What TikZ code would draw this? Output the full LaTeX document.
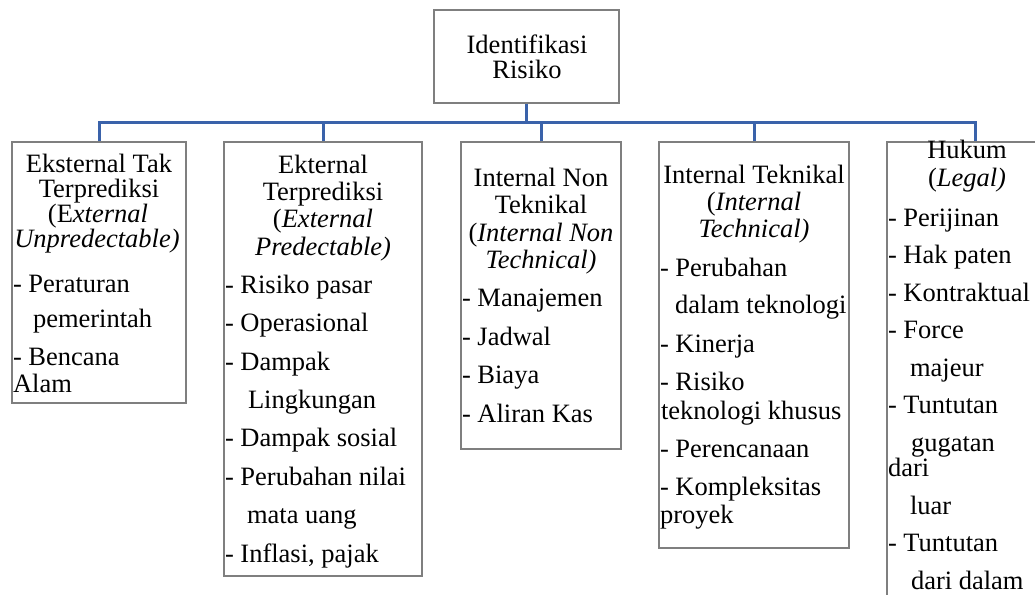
\documentclass[tikz,border=0pt]{standalone}
\usepackage{fontspec}
\setmainfont{Liberation Serif}
\definecolor{connblue}{HTML}{3A62AA}
\definecolor{boxgray}{HTML}{7F7F7F}
\newcounter{tlc}
\tikzset{
  boxst/.style={draw=boxgray, line width=1.3pt, fill=white, inner sep=0pt, rectangle},
  conn/.style={draw=connblue, line width=3pt},
  txt/.style={inner sep=0pt, outer sep=0pt, font=\fontsize{26.5}{25}\selectfont, text=black}
}
\newcommand\Lt[3]{\stepcounter{tlc}\edef\tlname{t\arabic{tlc}}\node[txt,anchor=base west] (\tlname) at (#1,#2) {#3};}
\newcommand\Ct[3]{\stepcounter{tlc}\edef\tlname{t\arabic{tlc}}\node[txt,anchor=base] (\tlname) at (#1,#2) {#3};}
\begin{document}
\begin{tikzpicture}[x=1pt,y=-1pt]
\useasboundingbox (0,0) rectangle (1035,594);
\clip (0,0) rectangle (1035,594);
\fill[white] (0,0) rectangle (1035,594);
% boxes
\node[boxst, minimum width=185pt, minimum height=93pt] (top) at (526.5,56.5) {};
\node[boxst, minimum width=174pt, minimum height=261pt] (b1) at (99,272.5) {};
\node[boxst, minimum width=198pt, minimum height=434pt] (b2) at (323,359) {};
\node[boxst, minimum width=160pt, minimum height=307pt] (b3) at (541,295.5) {};
\node[boxst, minimum width=190pt, minimum height=406pt] (b4) at (754,345) {};
\node[boxst, minimum width=176pt, minimum height=558pt] (b5) at (975,421) {};
% connectors
\coordinate (bus) at (0,122);
\draw[conn] (top.south) -- (top.south |- bus);
\draw[conn] (b1.north) -- (b1.north |- bus) -- (b5.north |- bus) -- (b5.north);
\draw[conn] (b2.north) -- (b2.north |- bus);
\draw[conn] (b3.north) -- (b3.north |- bus);
\draw[conn] (b4.north) -- (b4.north |- bus);
% top
\Ct{527}{53}{Identifikasi}
\Ct{527}{78}{Risiko}
% box 1
\Ct{99}{172}{Eksternal Tak}
\Ct{99}{197}{Terprediksi}
\Ct{98}{222}{(E\textit{xternal}}
\Ct{97}{247}{\textit{Unpredectable)}}
\Lt{13}{292}{- Peraturan}
\Lt{33}{327}{pemerintah}
\Lt{13}{365}{- Bencana}
\Lt{13}{392}{Alam}
% box 2
\Ct{323}{173}{Ekternal}
\Ct{323}{200}{Terprediksi}
\Ct{323}{227}{(\textit{External}}
\Ct{323}{255}{\textit{Predectable)}}
\Lt{225}{293}{- Risiko pasar}
\Lt{225}{331.5}{- Operasional}
\Lt{225}{370}{- Dampak}
\Lt{248}{408}{Lingkungan}
\Lt{225}{446.5}{- Dampak sosial}
\Lt{225}{485}{- Perubahan nilai}
\Lt{247}{523}{mata uang}
\Lt{225}{562}{- Inflasi, pajak}
% box 3
\Ct{541}{186}{Internal Non}
\Ct{541}{213}{Teknikal}
\Ct{541}{241}{(\textit{Internal Non}}
\Ct{541}{268}{\textit{Technical)}}
\Lt{462}{306}{- Manajemen}
\Lt{462}{345}{- Jadwal}
\Lt{462}{383.5}{- Biaya}
\Lt{462}{422}{- Aliran Kas}
% box 4
\Ct{754}{183}{Internal Teknikal}
\Ct{754}{210}{(\textit{Internal}}
\Ct{754}{237}{\textit{Technical)}}
\Lt{660}{276}{- Perubahan}
\Lt{675}{313}{dalam teknologi}
\Lt{660}{352.5}{- Kinerja}
\Lt{660}{390}{- Risiko}
\Lt{661}{419}{teknologi khusus}
\Lt{660}{457}{- Perencanaan}
\Lt{660}{495}{- Kompleksitas}
\Lt{660}{523}{proyek}
% box 5
\Ct{967}{158}{Hukum}
\Ct{967}{186}{(\textit{Legal)}}
\Lt{888}{226}{- Perijinan}
\Lt{888}{263}{- Hak paten}
\Lt{888}{301}{- Kontraktual}
\Lt{888}{338}{- Force}
\Lt{910}{376}{majeur}
\Lt{888}{413}{- Tuntutan}
\Lt{911}{451}{gugatan}
\Lt{888}{476}{dari}
\Lt{910}{514}{luar}
\Lt{888}{551}{- Tuntutan}
\Lt{911}{589}{dari dalam}
\end{tikzpicture}
\end{document}
